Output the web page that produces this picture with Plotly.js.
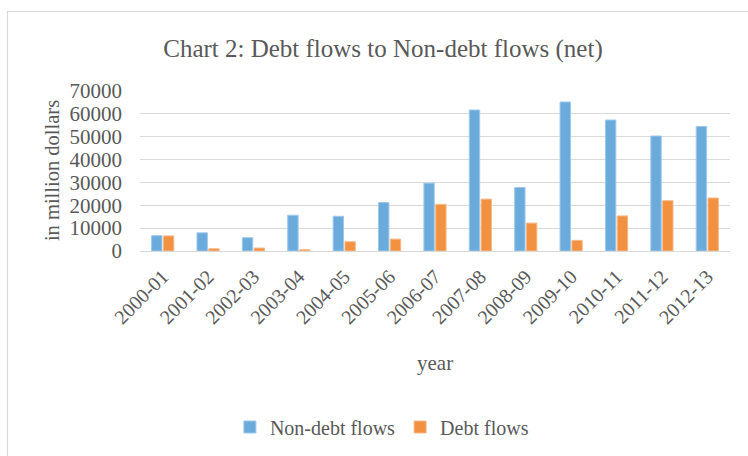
<!DOCTYPE html>
<html>
<head>
<meta charset="utf-8">
<script src="https://cdn.plot.ly/plotly-3.0.1.min.js"></script>
<style>html,body{margin:0;padding:0;background:#fff;}#chart{width:748px;height:456px;}</style>
</head>
<body>
<div id="chart"></div>
<script>
var years = ["2000-01","2001-02","2002-03","2003-04","2004-05","2005-06","2006-07","2007-08","2008-09","2009-10","2010-11","2011-12","2012-13"];
var nonDebtFlows = [6700, 7950, 5800, 15650, 15200, 21200, 29700, 61700, 27800, 65200, 57300, 50300, 54500];
var debtFlows = [6600, 1000, 1300, 550, 4050, 5200, 20400, 22700, 12200, 4650, 15350, 22000, 23200];
var seriesNames = ["Non-debt flows", "Debt flows"];
var yTicks = [0,10000,20000,30000,40000,50000,60000,70000];

var font = "'Liberation Serif', 'Times New Roman', serif";
var txt = "#595959";
var data = [
  {type:"bar", name:seriesNames[0], x:years, y:nonDebtFlows, marker:{color:"#6aabdc", line:{color:"#9ec8ea", width:1}}},
  {type:"bar", name:seriesNames[1], x:years, y:debtFlows, marker:{color:"#f29140", line:{color:"#f6b98a", width:1}}}
];
var layout = {
  width:748, height:456,
  margin:{l:140, r:18, t:91, b:204},
  paper_bgcolor:"#fff", plot_bgcolor:"#fff",
  font:{family:font, color:txt, size:20},
  barmode:"group", bargap:0.48, bargroupgap:0.12,
  showlegend:true,
  legend:{orientation:"h", x:0.41, xanchor:"center", y:-1.087, yanchor:"middle", font:{size:20, color:txt}, itemwidth:30, traceorder:"normal"},
  title:{text:"Chart 2: Debt flows to Non-debt flows (net)", x:0.512, xref:"container", xanchor:"center", y:0.895, yref:"container", yanchor:"middle", font:{size:25, color:txt, family:font}},
  xaxis:{type:"category", tickangle:-45, showgrid:false, zeroline:false, showline:false, ticks:"", tickfont:{size:20, color:txt}, ticklabelstandoff:9, automargin:false},
  yaxis:{range:[0,70000], tickvals:yTicks, ticktext:yTicks.map(String), showgrid:true, gridcolor:"#d9d9d9", gridwidth:1, zeroline:true, zerolinecolor:"#d9d9d9", zerolinewidth:1, showline:false, ticks:"", tickfont:{size:21, color:txt}, ticklabelstandoff:17, automargin:false},
  annotations:[
    {text:"in million dollars", xref:"paper", yref:"paper", x:-0.149, y:0.5, textangle:-90, showarrow:false, xanchor:"center", yanchor:"middle", font:{size:20.5, color:txt}},
    {text:"year", xref:"paper", yref:"paper", x:0.5, y:-0.702, showarrow:false, xanchor:"center", yanchor:"middle", font:{size:21, color:txt}}
  ],
  shapes:[
    {type:"path", xref:"paper", yref:"paper", path:"M -0.2246 -2 L -0.2246 1.497 L 2 1.497", line:{color:"#d9d9d9", width:1.2}}
  ]
};
Plotly.newPlot("chart", data, layout, {displayModeBar:false, staticPlot:true});
</script>
</body>
</html>
